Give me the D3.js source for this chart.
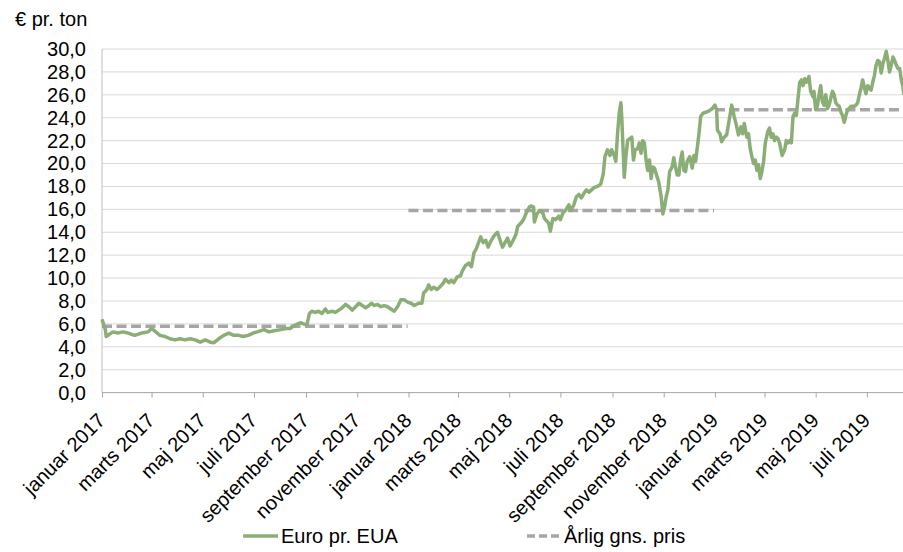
<!DOCTYPE html>
<html><head><meta charset="utf-8">
<script src="https://cdn.jsdelivr.net/npm/d3@7"></script>
<style>
body{margin:0;background:#fff;overflow:hidden}
svg{display:block}
text{font-family:"Liberation Sans",Arial,sans-serif;fill:#000}
</style>
</head><body>
<svg id="chart" width="903" height="552"></svg>
<script>
// ---- data ----
const startDate = "2017-01-01";
const xDomainEnd = "2019-08-13";
const dayOffsets = [0,4,5,13,19,25,31,39,47,55,59,64,69,75,81,87,93,99,105,111,117,123,129,133,139,145,151,157,163,168,174,180,185,193,199,205,213,219,224,230,236,240,244,247,250,254,258,262,266,269,274,278,282,286,290,294,298,302,306,310,314,318,321,324,328,332,336,340,344,348,352,356,360,364,368,372,377,381,383,387,389,392,395,399,402,406,409,413,416,419,423,427,429,433,437,440,443,446,449,451,454,457,460,463,467,471,475,477,480,483,486,489,493,495,499,502,506,509,511,514,515,518,521,525,527,532,534,537,540,544,546,549,552,556,558,562,565,568,571,574,577,580,583,586,590,594,597,599,602,605,607,610,612,614,616,618,619,621,622,624,626,629,631,633,635,638,640,642,644,646,648,650,652,654,656,658,660,663,666,668,670,672,674,676,679,681,683,685,687,689,691,693,695,697,700,703,705,707,711,713,716,720,723,727,730,732,733,736,738,741,744,747,750,753,756,758,761,763,765,768,770,772,774,776,778,780,782,784,786,788,790,793,795,797,799,801,803,805,807,810,813,815,817,819,821,823,825,827,829,831,833,835,837,839,841,842,844,847,848,850,852,854,856,858,860,862,864,866,868,870,872,874,876,878,880,882,884,886,888,890,892,894,896,898,900,902,904,906,908,910,912,914,916,918,920,922,924,926,928,930,932,934,936,938,940,942,944,946,948,950,952,954,955];
const prices = [6.4,5.5,4.9,5.3,5.2,5.3,5.2,5.0,5.2,5.3,5.6,5.3,5.0,4.9,4.7,4.6,4.7,4.6,4.7,4.6,4.4,4.6,4.4,4.35,4.7,5.0,5.2,5.0,5.0,4.9,5.0,5.2,5.3,5.5,5.3,5.4,5.5,5.6,5.6,5.9,6.1,6.0,5.9,6.9,7.1,7.0,7.1,6.9,7.3,7.0,7.1,7.0,7.2,7.4,7.7,7.5,7.2,7.5,7.8,7.6,7.4,7.6,7.8,7.6,7.7,7.5,7.6,7.5,7.3,7.1,7.5,8.1,8.1,7.9,7.8,7.6,7.8,7.8,8.7,9.0,9.4,9.0,9.2,9.0,9.2,9.5,9.9,9.6,9.8,9.6,10.1,10.2,10.6,11.1,11.3,11.0,12.2,12.6,13.2,13.6,13.1,13.3,12.7,13.2,13.7,14.0,13.1,12.7,13.1,13.5,12.8,13.2,13.8,14.5,14.8,15.1,15.8,16.2,16.3,16.2,14.9,15.6,15.9,15.7,15.2,14.8,14.1,15.2,15.1,15.4,15.1,15.7,15.9,16.4,15.9,16.4,17.1,17.3,17.0,17.4,17.7,17.5,17.7,17.9,18.0,18.2,19.1,20.6,21.2,20.7,21.2,20.7,20.2,22.6,24.4,25.3,24.1,20.6,18.8,20.6,22.0,22.2,22.3,20.3,21.2,21.3,21.8,20.9,22.0,21.8,20.3,19.4,20.3,18.7,19.7,19.6,19.1,18.4,17.1,15.6,16.2,17.1,17.7,19.3,19.7,20.5,19.7,19.0,19.0,20.3,21.0,19.4,19.3,20.2,20.6,19.6,20.7,20.2,22.6,24.1,24.4,24.5,24.6,24.8,25.1,24.7,22.9,22.6,21.9,22.3,22.5,23.8,25.1,24.1,23.2,22.5,23.2,22.6,23.5,22.3,22.6,21.3,20.6,20.0,20.3,19.4,19.9,18.7,19.3,20.2,21.8,22.8,23.1,22.3,22.6,22.0,22.3,22.2,21.8,20.7,21.2,22.0,21.8,22.0,21.8,24.1,24.4,24.2,25.7,27.1,27.3,26.8,27.4,27.1,27.4,27.6,26.3,25.8,26.3,24.7,25.0,26.0,26.8,25.4,25.1,26.0,24.8,25.1,25.7,26.3,26.0,25.3,25.1,25.0,24.5,24.2,23.6,24.2,24.7,24.8,25.0,25.0,25.0,25.1,25.3,26.0,26.6,27.3,26.6,26.1,26.8,26.6,26.4,27.1,27.7,28.6,29.0,28.9,27.9,28.7,29.2,29.8,29.0,28.0,28.6,29.3,29.0,28.6,28.3,28.3,27.3,26.7,26.0];
const avgYears = [2017, 2018, 2019];
const avgPrices = [5.8, 15.9, 24.7];
const yTicks = [0,2,4,6,8,10,12,14,16,18,20,22,24,26,28,30];
const monthNames = ["januar","februar","marts","april","maj","juni","juli","august","september","oktober","november","december"];
const unitLabel = "€ pr. ton";
const seriesNames = ["Euro pr. EUA", "Årlig gns. pris"];

// ---- styles ----
const green = "#8aae76";
const grey = "#a6a6a6";

const svg = d3.select("#chart");
const parse = d3.utcParse("%Y-%m-%d");
const t0 = parse(startDate);
const data = dayOffsets.map((d, i) => ({date: d3.utcDay.offset(t0, d), value: prices[i]}));

const mLeft = 102, mRight = 903, mBottom = 392.6, mTop = 49;
const x = d3.scaleUtc().domain([t0, parse(xDomainEnd)]).range([mLeft, mRight]);
const y = d3.scaleLinear().domain([0, 30]).range([mBottom, mTop]);

// gridlines
svg.append("g").selectAll("line").data(yTicks.filter(v => v > 0)).join("line")
  .attr("x1", mLeft).attr("x2", mRight + 20)
  .attr("y1", d => y(d)).attr("y2", d => y(d))
  .attr("stroke", "#d9d9d9").attr("stroke-width", 1);

// left axis line
svg.append("line").attr("x1", mLeft).attr("x2", mLeft).attr("y1", y(30)).attr("y2", y(0))
  .attr("stroke", "#bfbfbf").attr("stroke-width", 1);

// y axis labels
const yAxis = svg.append("g").attr("transform", `translate(${mLeft},0)`)
  .call(d3.axisLeft(y).tickValues(yTicks).tickSize(0).tickPadding(16)
    .tickFormat(d => d.toFixed(1).replace(".", ",")));
yAxis.select(".domain").remove();
yAxis.selectAll("text").style("font-size", "20px").style("font-family", '"Liberation Sans",Arial,sans-serif').attr("fill", "#000");

// x axis
const xAxis = svg.append("g").attr("transform", `translate(0,${mBottom})`)
  .call(d3.axisBottom(x).ticks(d3.utcMonth.every(2)).tickSize(5)
    .tickFormat(d => monthNames[d.getUTCMonth()] + " " + d.getUTCFullYear()));
xAxis.select(".domain").attr("stroke", grey).attr("d", `M${mLeft},0H${mRight + 20}`);
xAxis.selectAll(".tick line").attr("stroke", grey);
xAxis.selectAll("text")
  .style("font-size", "20px").style("font-family", '"Liberation Sans",Arial,sans-serif').attr("fill", "#000")
  .attr("x", 0).attr("y", 0).attr("dy", "0.35em")
  .attr("text-anchor", "end")
  .attr("transform", "translate(-1,24) rotate(-45)");

// annual averages
svg.append("g").selectAll("line").data(avgYears).join("line")
  .attr("x1", (d) => x(parse(d + "-01-01")))
  .attr("x2", (d) => x(parse(d + "-12-31")))
  .attr("y1", (d, i) => y(avgPrices[i])).attr("y2", (d, i) => y(avgPrices[i]))
  .attr("stroke", grey).attr("stroke-width", 3.5).attr("stroke-dasharray", "10,4.5");

// price line
svg.append("path").datum(data)
  .attr("fill", "none").attr("stroke", green).attr("stroke-width", 3.5)
  .attr("stroke-linejoin", "round")
  .attr("d", d3.line().x(d => x(d.date)).y(d => y(d.value)));

// unit label
svg.append("text").attr("x", 15).attr("y", 26).style("font-size", "20px").text(unitLabel);

// legend
const lg = svg.append("g");
lg.append("line").attr("x1", 243).attr("x2", 278).attr("y1", 536).attr("y2", 536)
  .attr("stroke", green).attr("stroke-width", 3.5);
lg.append("text").attr("x", 281).attr("y", 543).style("font-size", "20px").text(seriesNames[0]);
lg.append("line").attr("x1", 527).attr("x2", 562).attr("y1", 536).attr("y2", 536)
  .attr("stroke", grey).attr("stroke-width", 3.5).attr("stroke-dasharray", "8,4");
lg.append("text").attr("x", 564).attr("y", 543).style("font-size", "20px").text(seriesNames[1]);
</script>
</body></html>
